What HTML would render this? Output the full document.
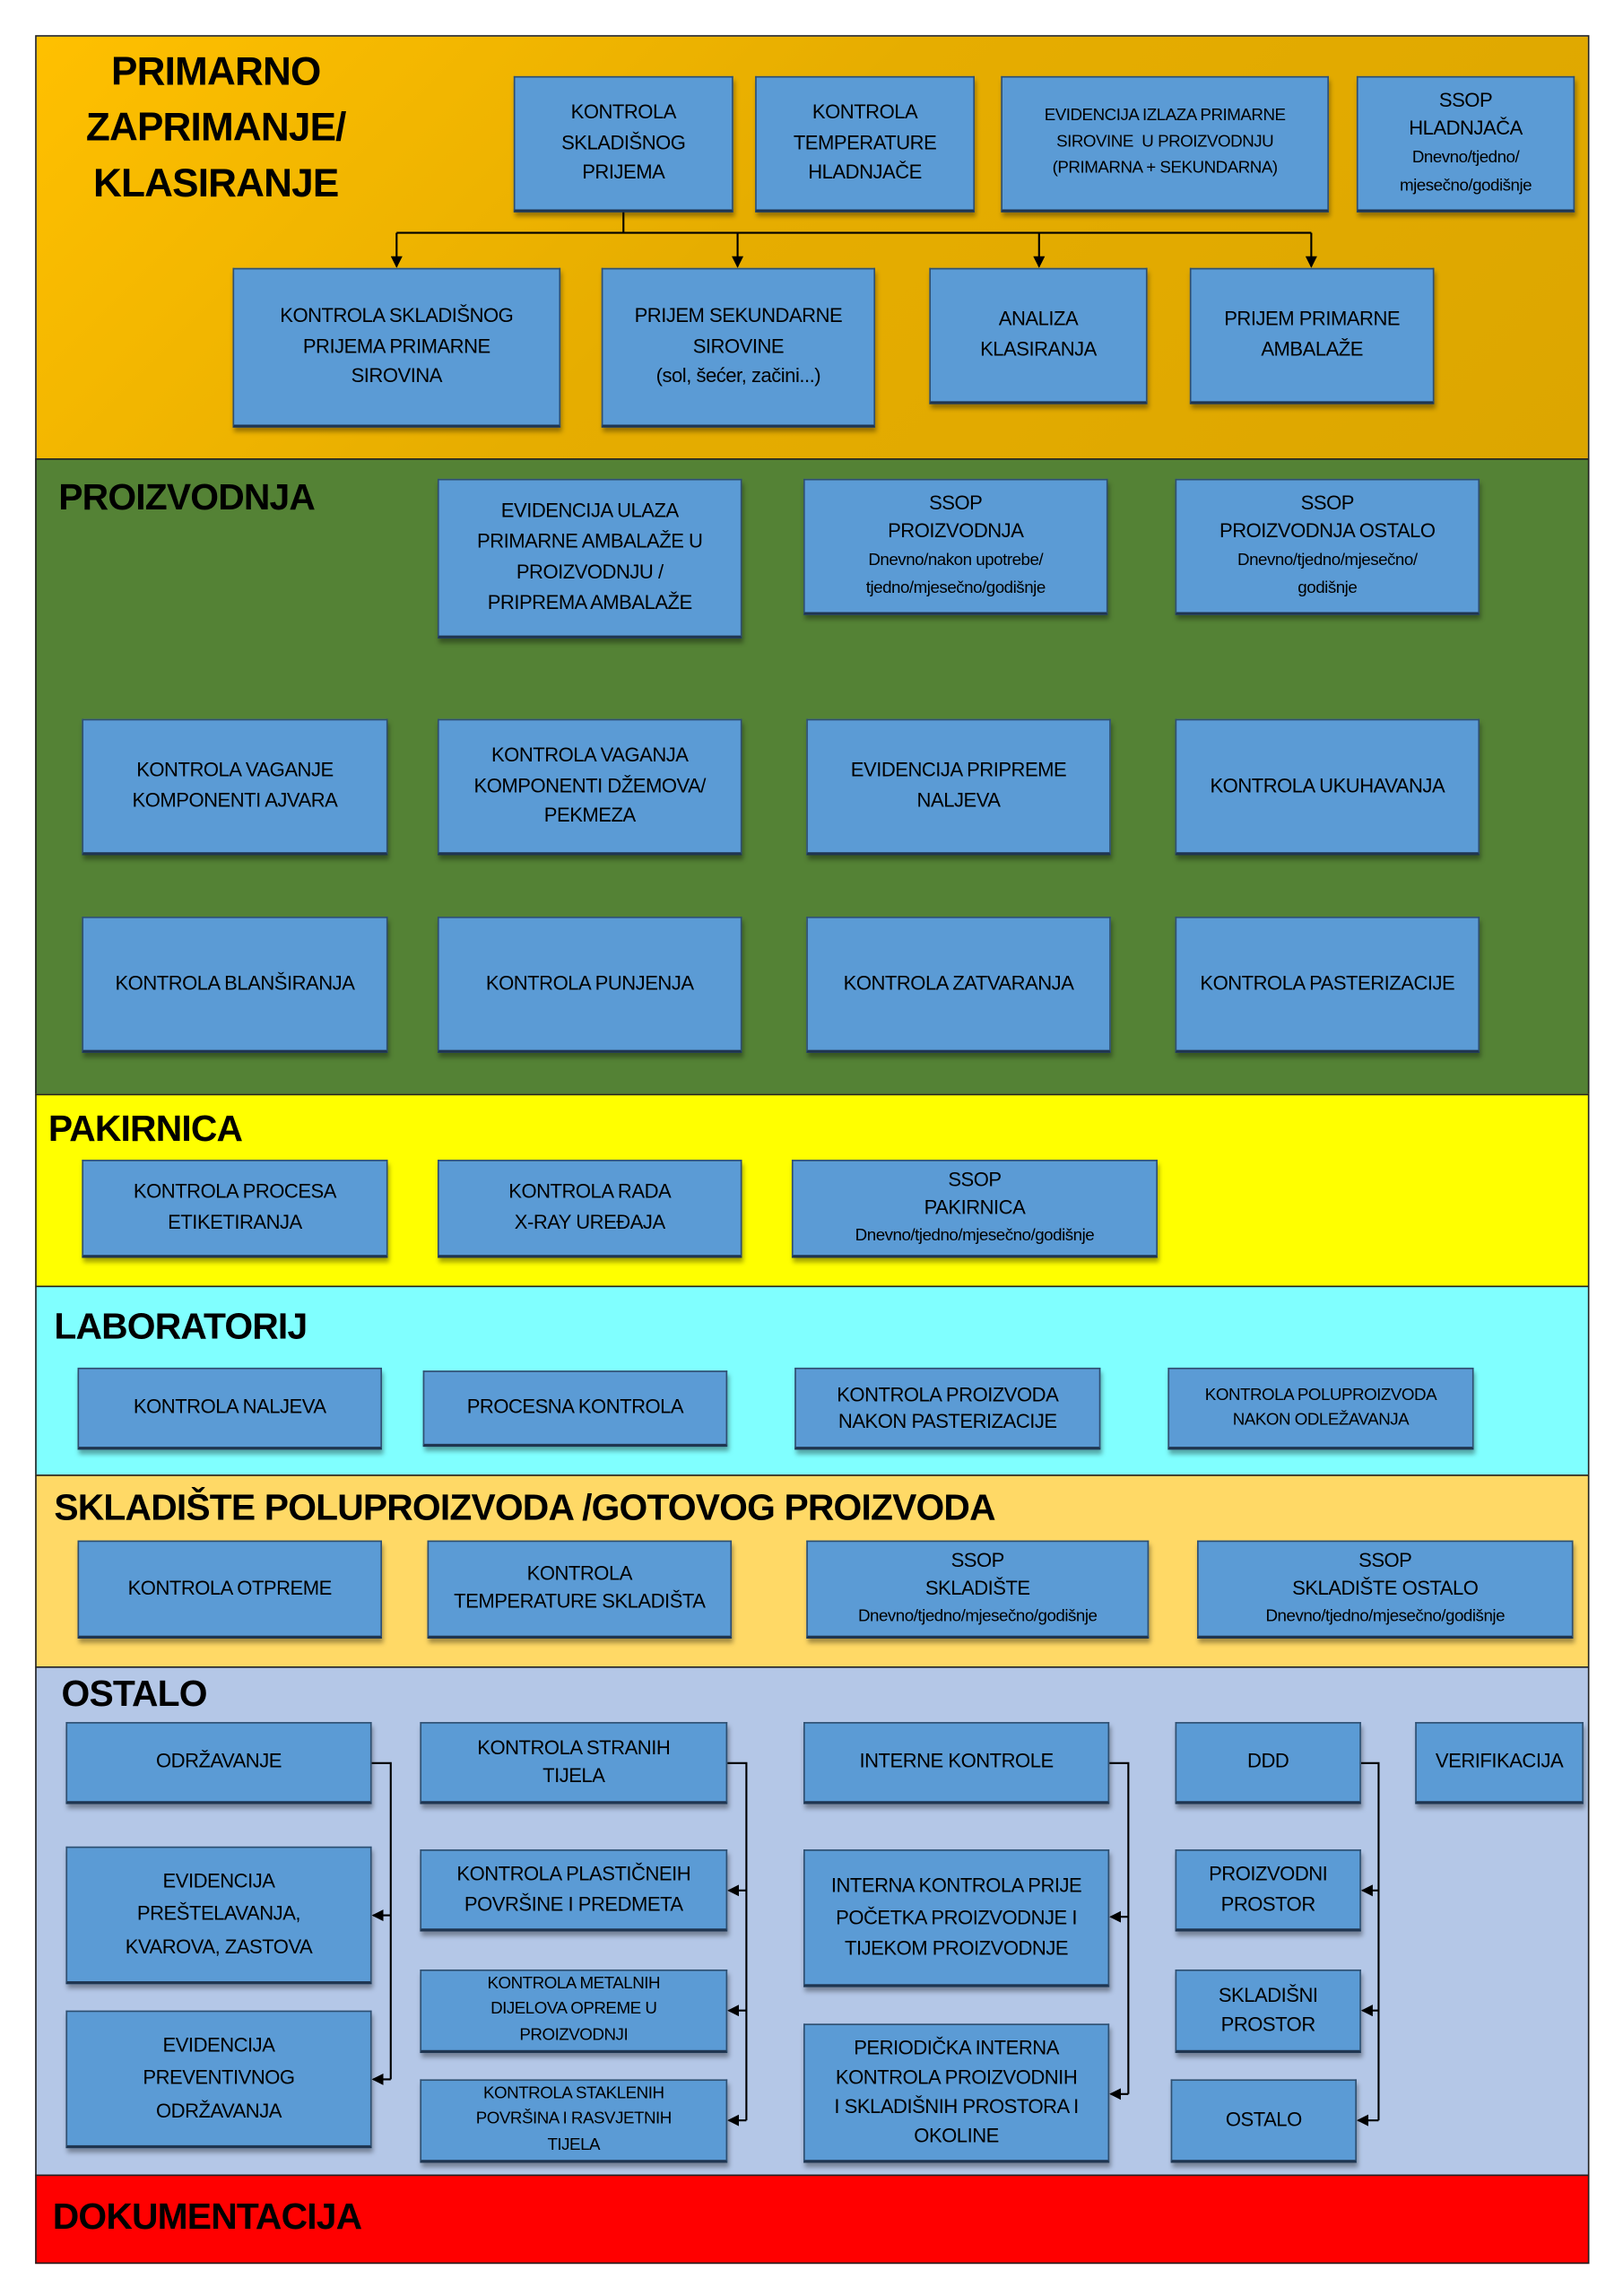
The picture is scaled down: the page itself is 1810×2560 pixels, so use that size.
<!DOCTYPE html>
<html><head><meta charset="utf-8"><style>
html,body{margin:0;padding:0;background:#fff;width:1810px;height:2560px;overflow:hidden}
#w{position:absolute;left:0;top:0;width:1109px;height:1568px;transform-origin:0 0;transform:scale(1.6321,1.6327);font-family:"Liberation Sans",sans-serif}
.s{position:absolute;left:24px;width:1062px;border:1px solid #222;box-sizing:border-box}
.t{position:absolute;font-weight:bold;font-size:25px;color:#000;letter-spacing:-0.5px;white-space:nowrap}
.b{position:absolute;background:#5B9BD5;border:1px solid #2F4F70;border-bottom:2px solid #1F3550;box-sizing:border-box;display:flex;align-items:center;justify-content:center;text-align:center;font-size:13.5px;line-height:1.55;color:#000;letter-spacing:-0.3px;box-shadow:1px 3px 3px rgba(0,0,0,0.35)}
.sm{font-size:11.5px}
svg{position:absolute;left:0;top:0}
</style></head><body><div id="w">
<div class="s" style="top:24px;height:290px;background:linear-gradient(135deg,#FFC000 0%,#E6AD00 45%,#DCA600 100%)"></div>
<div class="s" style="top:313px;height:435px;background:#548235"></div>
<div class="s" style="top:747px;height:132px;background:#FFFF00"></div>
<div class="s" style="top:878px;height:130px;background:#80FFFF"></div>
<div class="s" style="top:1007px;height:132px;background:#FFD966"></div>
<div class="s" style="top:1138px;height:348px;background:#B4C7E7"></div>
<div class="s" style="top:1485px;height:61px;background:#FF0000"></div>

<div class="t" style="left:50px;top:30px;width:195px;text-align:center;font-size:27px;line-height:38px">PRIMARNO<br>ZAPRIMANJE/<br>KLASIRANJE</div>
<div class="b" style="left:351px;top:52px;width:150px;height:93px"><div>KONTROLA<br>SKLADIŠNOG<br>PRIJEMA</div></div>
<div class="b" style="left:516px;top:52px;width:150px;height:93px"><div>KONTROLA<br>TEMPERATURE<br>HLADNJAČE</div></div>
<div class="b sm" style="left:684px;top:52px;width:224px;height:93px"><div>EVIDENCIJA IZLAZA PRIMARNE<br>SIROVINE&nbsp; U PROIZVODNJU<br>(PRIMARNA + SEKUNDARNA)</div></div>
<div class="b" style="left:927px;top:52px;width:149px;height:93px;line-height:1.4"><div>SSOP<br>HLADNJAČA<br><span class="sm">Dnevno/tjedno/<br>mjesečno/godišnje</span></div></div>
<div class="b" style="left:159px;top:183px;width:224px;height:109px"><div>KONTROLA SKLADIŠNOG<br>PRIJEMA PRIMARNE<br>SIROVINA</div></div>
<div class="b" style="left:411px;top:183px;width:187px;height:109px"><div>PRIJEM SEKUNDARNE<br>SIROVINE<br>(sol, šećer, začini...)</div></div>
<div class="b" style="left:635px;top:183px;width:149px;height:93px"><div>ANALIZA<br>KLASIRANJA</div></div>
<div class="b" style="left:813px;top:183px;width:167px;height:93px"><div>PRIJEM PRIMARNE<br>AMBALAŽE</div></div>

<div class="t" style="left:40px;top:326px">PROIZVODNJA</div>
<div class="b" style="left:299px;top:327px;width:208px;height:109px"><div>EVIDENCIJA ULAZA<br>PRIMARNE AMBALAŽE U<br>PROIZVODNJU /<br>PRIPREMA AMBALAŽE</div></div>
<div class="b" style="left:549px;top:327px;width:208px;height:93px;line-height:1.4"><div>SSOP<br>PROIZVODNJA<br><span class="sm">Dnevno/nakon upotrebe/<br>tjedno/mjesečno/godišnje</span></div></div>
<div class="b" style="left:803px;top:327px;width:208px;height:93px;line-height:1.4"><div>SSOP<br>PROIZVODNJA OSTALO<br><span class="sm">Dnevno/tjedno/mjesečno/<br>godišnje</span></div></div>
<div class="b" style="left:56px;top:491px;width:209px;height:93px"><div>KONTROLA VAGANJE<br>KOMPONENTI AJVARA</div></div>
<div class="b" style="left:299px;top:491px;width:208px;height:93px"><div>KONTROLA VAGANJA<br>KOMPONENTI DŽEMOVA/<br>PEKMEZA</div></div>
<div class="b" style="left:551px;top:491px;width:208px;height:93px"><div>EVIDENCIJA PRIPREME<br>NALJEVA</div></div>
<div class="b" style="left:803px;top:491px;width:208px;height:93px"><div>KONTROLA UKUHAVANJA</div></div>
<div class="b" style="left:56px;top:626px;width:209px;height:93px"><div>KONTROLA BLANŠIRANJA</div></div>
<div class="b" style="left:299px;top:626px;width:208px;height:93px"><div>KONTROLA PUNJENJA</div></div>
<div class="b" style="left:551px;top:626px;width:208px;height:93px"><div>KONTROLA ZATVARANJA</div></div>
<div class="b" style="left:803px;top:626px;width:208px;height:93px"><div>KONTROLA PASTERIZACIJE</div></div>

<div class="t" style="left:33px;top:757px">PAKIRNICA</div>
<div class="b" style="left:56px;top:792px;width:209px;height:67px"><div>KONTROLA PROCESA<br>ETIKETIRANJA</div></div>
<div class="b" style="left:299px;top:792px;width:208px;height:67px"><div>KONTROLA RADA<br>X-RAY UREĐAJA</div></div>
<div class="b" style="left:541px;top:792px;width:250px;height:67px;line-height:1.4"><div>SSOP<br>PAKIRNICA<br><span class="sm">Dnevno/tjedno/mjesečno/godišnje</span></div></div>

<div class="t" style="left:37px;top:892px">LABORATORIJ</div>
<div class="b" style="left:53px;top:934px;width:208px;height:56px"><div>KONTROLA NALJEVA</div></div>
<div class="b" style="left:289px;top:936px;width:208px;height:52px"><div>PROCESNA KONTROLA</div></div>
<div class="b" style="left:543px;top:934px;width:209px;height:56px;line-height:1.3"><div>KONTROLA PROIZVODA<br>NAKON PASTERIZACIJE</div></div>
<div class="b sm" style="left:798px;top:934px;width:209px;height:56px;line-height:1.4"><div>KONTROLA POLUPROIZVODA<br>NAKON ODLEŽAVANJA</div></div>

<div class="t" style="left:37px;top:1016px">SKLADIŠTE POLUPROIZVODA /GOTOVOG PROIZVODA</div>
<div class="b" style="left:53px;top:1052px;width:208px;height:67px"><div>KONTROLA OTPREME</div></div>
<div class="b" style="left:292px;top:1052px;width:208px;height:67px;line-height:1.4"><div>KONTROLA<br>TEMPERATURE SKLADIŠTA</div></div>
<div class="b" style="left:551px;top:1052px;width:234px;height:67px;line-height:1.4"><div>SSOP<br>SKLADIŠTE<br><span class="sm">Dnevno/tjedno/mjesečno/godišnje</span></div></div>
<div class="b" style="left:818px;top:1052px;width:257px;height:67px;line-height:1.4"><div>SSOP<br>SKLADIŠTE OSTALO<br><span class="sm">Dnevno/tjedno/mjesečno/godišnje</span></div></div>

<div class="t" style="left:42px;top:1143px">OSTALO</div>
<svg width="1109" height="1568" viewBox="0 0 1109 1568">
<defs><marker id="a" markerWidth="8" markerHeight="8" refX="7" refY="4" orient="auto" markerUnits="userSpaceOnUse"><path d="M0,0 L8,4 L0,8 z" fill="#000"/></marker></defs>
<g stroke="#000" stroke-width="1.3" fill="none">
<path d="M426,145 V159 M271,159 H896"/>
<path d="M271,159 V182" marker-end="url(#a)"/><path d="M504,159 V182" marker-end="url(#a)"/><path d="M710,159 V182" marker-end="url(#a)"/><path d="M896,159 V182" marker-end="url(#a)"/>
<path d="M254,1204 H267 V1420"/><path d="M267,1308 H255" marker-end="url(#a)"/><path d="M267,1420 H255" marker-end="url(#a)"/>
<path d="M497,1204 H510 V1448"/><path d="M510,1291 H498" marker-end="url(#a)"/><path d="M510,1373 H498" marker-end="url(#a)"/><path d="M510,1448 H498" marker-end="url(#a)"/>
<path d="M758,1204 H771 V1430"/><path d="M771,1309 H759" marker-end="url(#a)"/><path d="M771,1430 H759" marker-end="url(#a)"/>
<path d="M930,1204 H942 V1448"/><path d="M942,1291 H931" marker-end="url(#a)"/><path d="M942,1373 H931" marker-end="url(#a)"/><path d="M942,1448 H928" marker-end="url(#a)"/>
</g></svg>
<div class="b" style="left:45px;top:1176px;width:209px;height:56px"><div>ODRŽAVANJE</div></div>
<div class="b" style="left:287px;top:1176px;width:210px;height:56px;line-height:1.4"><div>KONTROLA STRANIH<br>TIJELA</div></div>
<div class="b" style="left:549px;top:1176px;width:209px;height:56px"><div>INTERNE KONTROLE</div></div>
<div class="b" style="left:803px;top:1176px;width:127px;height:56px"><div>DDD</div></div>
<div class="b" style="left:967px;top:1176px;width:115px;height:56px"><div>VERIFIKACIJA</div></div>
<div class="b" style="left:45px;top:1261px;width:209px;height:94px;line-height:1.65"><div>EVIDENCIJA<br>PREŠTELAVANJA,<br>KVAROVA, ZASTOVA</div></div>
<div class="b" style="left:45px;top:1373px;width:209px;height:94px;line-height:1.65"><div>EVIDENCIJA<br>PREVENTIVNOG<br>ODRŽAVANJA</div></div>
<div class="b" style="left:287px;top:1263px;width:210px;height:56px;line-height:1.5"><div>KONTROLA PLASTIČNEIH<br>POVRŠINE I PREDMETA</div></div>
<div class="b sm" style="left:287px;top:1345px;width:210px;height:57px;line-height:1.5"><div>KONTROLA METALNIH<br>DIJELOVA OPREME U<br>PROIZVODNJI</div></div>
<div class="b sm" style="left:287px;top:1420px;width:210px;height:57px;line-height:1.5"><div>KONTROLA STAKLENIH<br>POVRŠINA I RASVJETNIH<br>TIJELA</div></div>
<div class="b" style="left:549px;top:1263px;width:209px;height:94px;line-height:1.6"><div>INTERNA KONTROLA PRIJE<br>POČETKA PROIZVODNJE I<br>TIJEKOM PROIZVODNJE</div></div>
<div class="b" style="left:549px;top:1382px;width:209px;height:95px;line-height:1.5"><div>PERIODIČKA INTERNA<br>KONTROLA PROIZVODNIH<br>I SKLADIŠNIH PROSTORA I<br>OKOLINE</div></div>
<div class="b" style="left:803px;top:1263px;width:127px;height:56px;line-height:1.5"><div>PROIZVODNI<br>PROSTOR</div></div>
<div class="b" style="left:803px;top:1345px;width:127px;height:57px;line-height:1.5"><div>SKLADIŠNI<br>PROSTOR</div></div>
<div class="b" style="left:800px;top:1420px;width:127px;height:57px"><div>OSTALO</div></div>

<div class="t" style="left:36px;top:1500px">DOKUMENTACIJA</div>
</div></body></html>
